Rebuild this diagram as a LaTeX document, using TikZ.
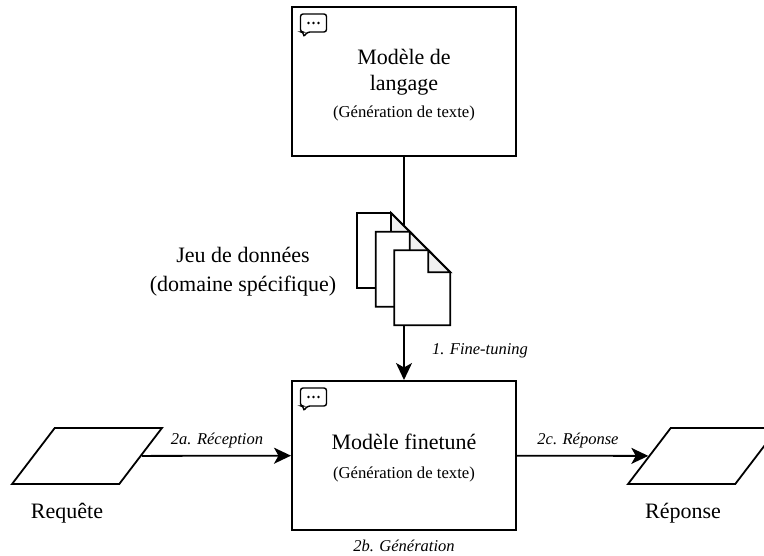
\documentclass[tikz,border=0pt]{standalone}
\usepackage{fontspec}
\setmainfont{Liberation Serif}
\usetikzlibrary{arrows.meta,shapes.geometric}
\definecolor{pli}{HTML}{F0F0F0}
\tikzset{
  boite/.style={draw,line width=2pt,minimum width=224pt,minimum height=149pt,align=center,font=\fontsize{22}{26}\selectfont,inner sep=0pt},
  para/.style={draw,line width=1.8pt,trapezium,trapezium left angle=56.5,trapezium right angle=123.5,trapezium stretches=true,minimum width=150pt,minimum height=56pt,inner sep=0pt},
  fleche/.style={line width=1.8pt,-{Stealth[length=17pt,width=16pt,inset=4.5pt]}},
  titre/.style={font=\fontsize{22}{29}\selectfont,align=center},
  etiquette/.style={font=\fontsize{16.5}{20}\selectfont\itshape},
  bulle/.pic={
    \draw[line width=1.4pt,rounded corners=2.5pt,fill=white] (-13,-9) -- (13,-9) -- (13,9) -- (-6,9) -- (-10,14) -- (-10,9) -- (-13,9) -- cycle;
    \foreach \px in {-5,0,5} \fill (\px,0) circle (1.3pt);
  }
}
\begin{document}
\begin{tikzpicture}[x=1pt,y=-1pt]
  \useasboundingbox (0,0) rectangle (764,556);
  % Modeles
  \node[boite] (modele) at (404,82) {\rule{0pt}{21pt}Modèle de\\langage\\[1pt]{\fontsize{16.7}{20}\selectfont (Génération de texte)}};
  \node[boite] (finetune) at (404,455.5) {\rule{0pt}{21pt}Modèle finetuné\\[3pt]{\fontsize{16.7}{20}\selectfont (Génération de texte)}};
  \pic at (313.5,23) {bulle};
  \pic at (313.5,397) {bulle};
  % Entree et sortie
  \node[para] (requete) at (87,456) {\rule{10pt}{0pt}\rule{0pt}{10pt}};
  \node[para] (reponse) at (703,456) {\rule{10pt}{0pt}\rule{0pt}{10pt}};
  \node[titre] (txtrequete) at (67,513) {Requête};
  \node[titre] (txtreponse) at (683,513) {Réponse};
  % Fleches
  \draw[fleche] (modele) -- (finetune);
  \draw[fleche] (requete) -- (finetune);
  \draw[fleche] (finetune) -- (reponse);
  % Jeu de donnees
  \foreach \dx in {0,18.67,37.33} {
    \draw[line width=1.8pt,fill=white] (357+\dx,213+\dx) -- (391+\dx,213+\dx) -- (413+\dx,235+\dx) -- (413+\dx,288+\dx) -- (357+\dx,288+\dx) -- cycle;
    \draw[line width=1.8pt,fill=pli] (391+\dx,213+\dx) -- (413+\dx,235+\dx) -- (391+\dx,235+\dx) -- cycle;
  }
  \node[titre] (txtjeu) at (243,272) {Jeu de données\\(domaine spécifique)};
  % Etiquettes
  \node[etiquette] (lblfine) at (480,351) {1. Fine-tuning};
  \node[etiquette] (lblrecep) at (217,441) {2a. Réception};
  \node[etiquette] (lblgen) at (404,546) {2b. Génération};
  \node[etiquette] (lblrep) at (578,441) {2c. Réponse};
\end{tikzpicture}
\end{document}
